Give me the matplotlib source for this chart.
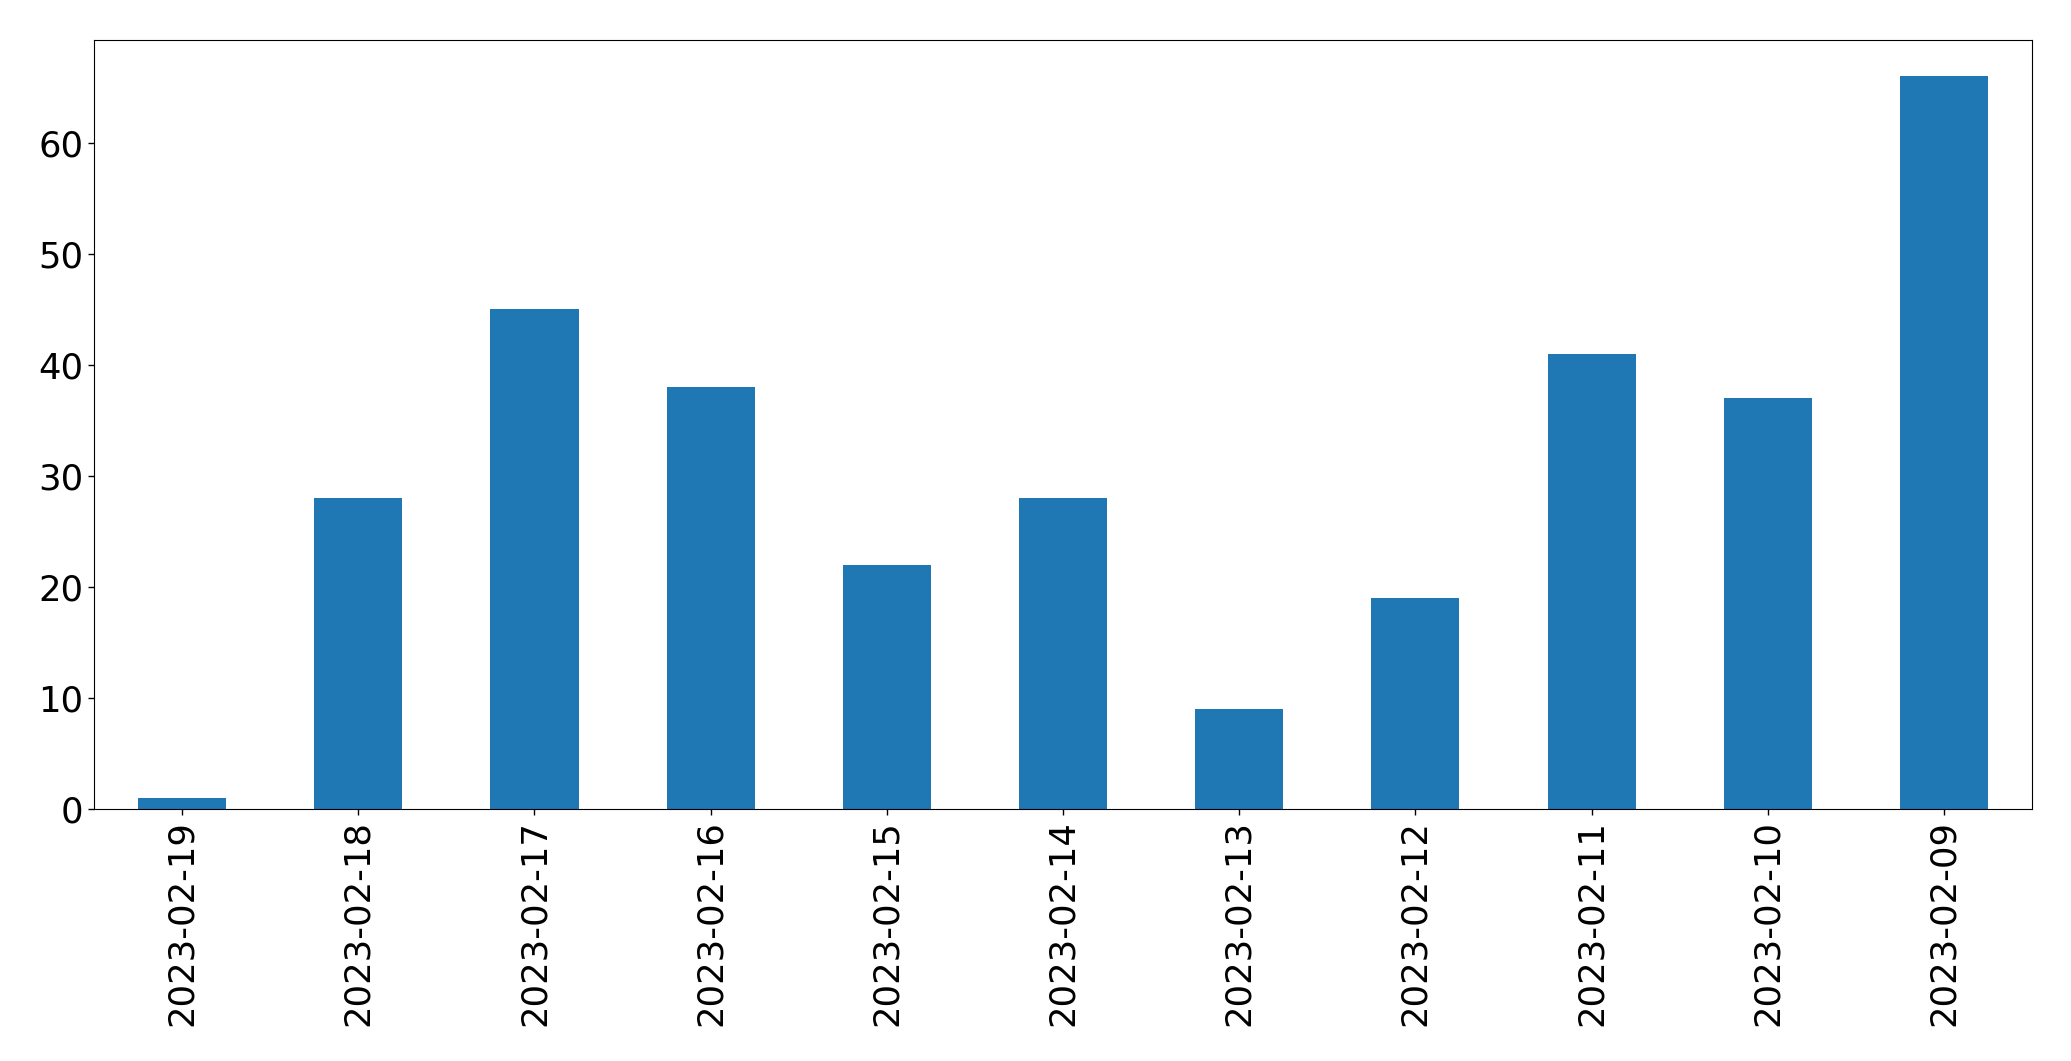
import matplotlib
matplotlib.use("Agg")
import matplotlib.pyplot as plt
import numpy as np

dates = ["2023-02-19", "2023-02-18", "2023-02-17", "2023-02-16", "2023-02-15",
         "2023-02-14", "2023-02-13", "2023-02-12", "2023-02-11", "2023-02-10", "2023-02-09"]
counts = [1, 28, 45, 38, 22, 28, 9, 19, 41, 37, 66]

fig = plt.figure(figsize=(20.71, 10.61), dpi=100)
ax = fig.add_axes([94 / 2071, 1 - 809 / 1061, (2032 - 94) / 2071, (809 - 39.5) / 1061])
x = np.arange(len(dates))
ax.bar(x, counts, width=0.5, color="#1f77b4")
ax.set_xlim(-0.5, len(dates) - 0.5)
ax.set_xticks(x)
ax.set_xticklabels(dates, rotation=90)
ax.tick_params(axis="both", labelsize=25.5, length=4.3, width=1)
fig.savefig("out.png", dpi=100)
